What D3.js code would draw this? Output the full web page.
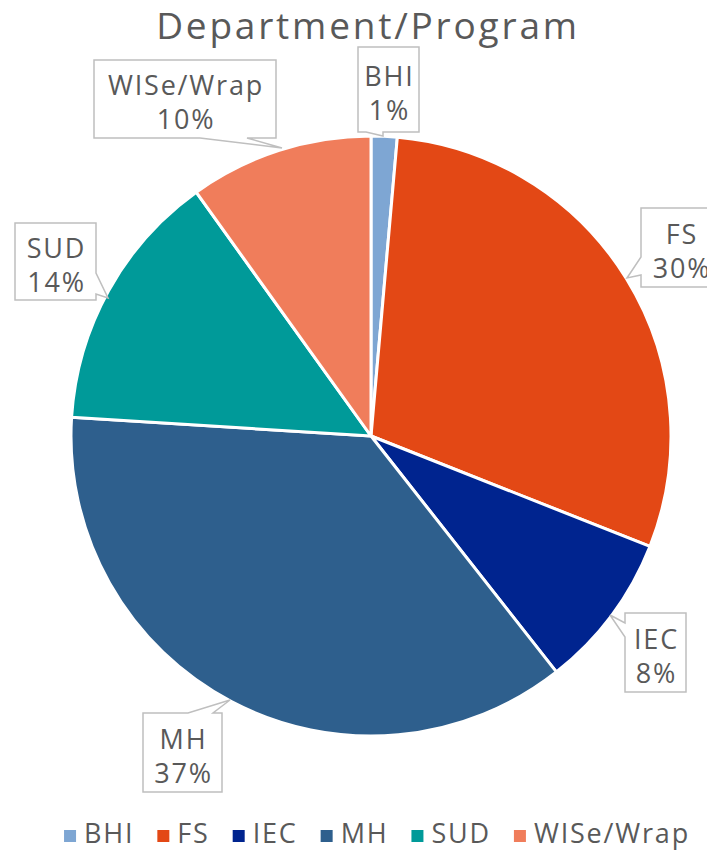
<!DOCTYPE html>
<html>
<head>
<meta charset="utf-8">
<script src="https://cdn.jsdelivr.net/npm/d3@7"></script>
<style>
  body { margin: 0; background: #fff; }
  svg { display: block; font-family: "Open Sans", Lato, sans-serif; }
</style>
</head>
<body>
<div id="chart"></div>
<script>
const categories = ["BHI", "FS", "IEC", "MH", "SUD", "WISe/Wrap"];
const values = [1.4, 29.6, 8.4, 36.6, 14.1, 9.9];
const colors = ["#7ea6d3", "#e34815", "#00248f", "#2e5f8d", "#009a99", "#f07d5b"];

// callout boxes as placed in the reference: box, side the pointer leaves from, base span, tip
const callouts = [
  { x: 358, y: 47, w: 61, h: 85, side: "bottom", a: 366, b: 383, tip: [383, 136] },
  { x: 641, y: 208, w: 80, h: 79, side: "left", a: 257, b: 275, tip: [627, 278] },
  { x: 625, y: 613, w: 61, h: 79, side: "left", a: 623, b: 637, tip: [610, 615] },
  { x: 143, y: 713, w: 79, h: 79, side: "top", a: 188, b: 213, tip: [230, 700] },
  { x: 15, y: 223, w: 81, h: 77, side: "right", a: 273, b: 294, tip: [108, 298] },
  { x: 94, y: 60, w: 182, h: 78, side: "bottom", a: 200, b: 247, tip: [282, 148] }
];

const width = 707, height = 852;
const cx = 371, cy = 436, radius = 300;
const textColor = "#595959";

const svg = d3.select("#chart").append("svg")
  .attr("width", width)
  .attr("height", height);

const data = categories.map((c, i) => ({ cat: c, value: values[i], color: colors[i], callout: callouts[i] }));
const total = d3.sum(values);
const pct = d3.format(".0%");

const pie = d3.pie().value((d) => d.value).sort(null);
const arc = d3.arc().innerRadius(0).outerRadius(radius);

svg.append("g")
  .attr("transform", `translate(${cx},${cy})`)
  .selectAll("path")
  .data(pie(data))
  .join("path")
  .attr("d", arc)
  .attr("fill", (d) => d.data.color)
  .attr("stroke", "#fff")
  .attr("stroke-width", 3)
  .attr("stroke-linejoin", "round");

// title
svg.append("text")
  .attr("x", 368)
  .attr("y", 39)
  .attr("text-anchor", "middle")
  .attr("font-size", 37)
  .attr("letter-spacing", 2.8)
  .attr("fill", textColor)
  .text("Department/Program");

function calloutPath(c) {
  const { x, y, w, h, side, a, b, tip } = c;
  const t = `L${tip[0]},${tip[1]}`;
  let p = `M${x},${y}`;
  if (side === "top") p += `L${a},${y}${t}L${b},${y}`;
  p += `L${x + w},${y}`;
  if (side === "right") p += `L${x + w},${a}${t}L${x + w},${b}`;
  p += `L${x + w},${y + h}`;
  if (side === "bottom") p += `L${b},${y + h}${t}L${a},${y + h}`;
  p += `L${x},${y + h}`;
  if (side === "left") p += `L${x},${b}${t}L${x},${a}`;
  return p + "Z";
}

const labels = svg.append("g")
  .selectAll("g")
  .data(data)
  .join("g");

labels.append("path")
  .attr("d", (d) => calloutPath(d.callout))
  .attr("fill", "#fff")
  .attr("stroke", "#bfbfbf")
  .attr("stroke-width", 1.5);

labels.append("text")
  .attr("x", (d) => d.callout.x + d.callout.w / 2 + 1)
  .attr("y", (d) => d.callout.y + d.callout.h / 2 - 4)
  .attr("text-anchor", "middle")
  .attr("font-size", 27)
  .attr("letter-spacing", 1.8)
  .attr("fill", textColor)
  .text((d) => d.cat);

labels.append("text")
  .attr("x", (d) => d.callout.x + d.callout.w / 2 + 1)
  .attr("y", (d) => d.callout.y + d.callout.h / 2 + 30)
  .attr("text-anchor", "middle")
  .attr("font-size", 27)
  .attr("letter-spacing", 1.8)
  .attr("fill", textColor)
  .text((d) => pct(d.value / total));

// legend
const legend = svg.append("g");
const items = legend.selectAll("g")
  .data(data)
  .join("g");

items.append("rect")
  .attr("width", 12)
  .attr("height", 12)
  .attr("y", -13)
  .attr("fill", (d) => d.color);

items.append("text")
  .attr("x", 20)
  .attr("font-size", 27)
  .attr("letter-spacing", 1.8)
  .attr("fill", textColor)
  .text((d) => d.cat);

let offset = 0;
items.each(function () {
  const w = 20 + d3.select(this).select("text").node().getComputedTextLength();
  d3.select(this).attr("transform", `translate(${offset},0)`);
  offset += w + 23;
});
offset -= 23;
legend.attr("transform", `translate(${377 - offset / 2},843)`);
</script>
</body>
</html>
